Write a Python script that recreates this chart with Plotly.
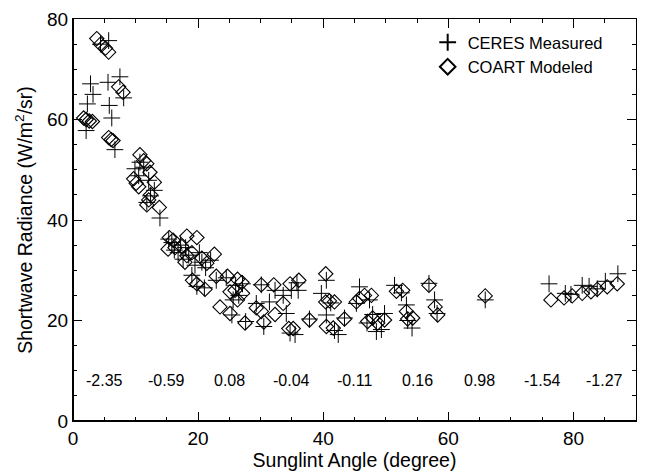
import plotly.graph_objects as go

# CERES measured (crosses)
ceres_x = [2.1, 2.3, 2.8, 3.2, 4.4, 5.7, 5.6, 5.8, 6.2, 6.7, 7.5, 8.1,
           9.9, 10.5, 10.7, 11.3, 12.1, 12.4, 13.0, 13.9, 11.8,
           15.3, 15.8, 16.2, 16.8, 17.2, 17.6, 18.0, 18.5, 19.0, 19.5, 20.2, 20.6, 21.2, 22.0, 22.9, 19.8, 21.0,
           24.5, 25.6, 25.4, 26.0, 27.1, 26.5, 27.6, 29.3, 30.1, 30.5, 31.4, 32.3, 33.6, 34.1, 34.9, 36.0, 35.5,
           34.7, 35.8, 37.8, 39.7, 40.5, 40.5,
           41.2, 42.4, 41.8, 43.4, 45.8, 45.3, 47.4, 47.9, 48.5, 49.3, 49.8, 47.0, 51.4, 52.5, 53.3, 54.2, 53.5,
           56.9, 57.8, 58.2, 65.9, 76.1, 78.7, 79.6, 81.4, 82.5, 83.8, 85.1, 87.1]
ceres_y = [57.8, 63.1, 67.1, 65.0, 75.0, 75.7, 67.4, 62.8, 60.3, 54.0, 68.5, 64.3,
           50.2, 48.8, 51.5, 50.5, 47.9, 44.8, 45.9, 40.4, 43.5,
           36.2, 35.5, 34.0, 33.5, 35.0, 32.2, 34.5, 33.0, 29.0, 31.0, 33.5, 31.6, 30.5, 32.0, 28.0, 26.8, 26.5,
           28.5, 24.1, 21.1, 27.0, 27.3, 25.0, 19.8, 23.4, 27.1, 18.8, 23.7, 26.0, 25.0, 21.4, 26.0, 26.0, 17.2,
           17.5, 27.5, 20.3, 25.4, 28.0, 21.1,
           23.5, 17.2, 18.0, 20.5, 26.7, 23.4, 24.1, 21.2, 17.8, 18.2, 21.4, 19.5, 27.0, 25.5, 23.1, 18.5, 20.0,
           27.4, 24.1, 21.4, 24.1, 27.3, 25.4, 25.2, 27.0, 26.8, 26.3, 27.8, 29.3]

# COART modeled (diamonds)
coart_x = [3.8, 4.4, 5.2, 5.7, 7.3, 8.0, 1.7, 2.1, 2.6, 3.1, 5.7, 6.1, 6.4,
           10.7, 11.3, 11.8, 12.3, 13.0, 9.7, 10.1, 10.5, 12.1, 12.4, 11.8, 13.8,
           15.4, 16.0, 18.2, 19.8, 15.2, 16.3, 17.4, 17.9, 18.2, 19.0, 20.6, 21.4, 22.6, 19.1, 19.8, 21.1,
           22.9, 24.7, 23.5, 25.1, 26.3, 27.0, 25.1, 25.9, 26.3, 27.1, 27.5, 30.1, 32.1, 29.3, 30.1, 30.5,
           32.3, 33.6, 34.7, 36.1, 34.5, 35.2, 37.8, 40.4, 40.4, 40.5,
           41.0, 41.8, 41.6, 43.4, 45.3, 45.8, 46.6, 47.7, 47.1, 47.9, 48.7, 49.8, 51.7, 52.7, 53.3, 53.5, 54.3,
           56.9, 57.9, 58.3, 65.9, 76.4, 78.5, 79.8, 81.4, 82.8, 83.8, 85.4, 87.0]
coart_y = [76.1, 75.0, 74.2, 73.4, 66.5, 65.4, 60.3, 60.0, 59.7, 59.6, 56.4, 56.0, 55.8,
           53.0, 51.8, 51.2, 49.5, 47.5, 48.2, 47.3, 46.6, 44.0, 45.0, 43.0, 42.5,
           36.5, 36.0, 36.8, 36.5, 34.2, 34.5, 34.7, 31.6, 32.9, 33.5, 32.4, 31.4, 33.2, 28.0, 27.3, 26.2,
           28.8, 28.8, 22.7, 21.4, 28.2, 27.6, 25.7, 26.0, 24.1, 25.4, 19.5, 27.1, 27.1, 22.5, 21.8, 19.7,
           21.2, 23.4, 27.3, 28.0, 18.4, 18.4, 20.1, 29.3, 23.7, 18.8,
           23.9, 23.7, 18.5, 20.3, 23.7, 24.4, 25.0, 25.0, 19.8, 20.5, 19.5, 20.1, 25.8, 26.0, 21.8, 20.3, 20.5,
           27.0, 22.7, 21.1, 24.9, 24.1, 24.5, 24.9, 25.4, 25.7, 26.2, 26.7, 27.3]

# bias labels
label_x = [5, 15, 25, 35, 45, 55, 65, 75, 85]
label_y = [8, 8, 8, 8, 8, 8, 8, 8, 8]
label_text = ["-2.35", "-0.59", "0.08", "-0.04", "-0.11", "0.16", "0.98", "-1.54", "-1.27"]

FONT = "Liberation Sans, Arial, Helvetica, sans-serif"

fig = go.Figure()
fig.add_trace(go.Scatter(
    x=ceres_x, y=ceres_y, mode="markers", name="CERES Measured",
    marker=dict(symbol="cross-thin-open", size=12, color="black",
                line=dict(color="black", width=1.0)),
))
fig.add_trace(go.Scatter(
    x=coart_x, y=coart_y, mode="markers", name="COART Modeled",
    marker=dict(symbol="diamond-open", size=11, color="black",
                line=dict(color="black", width=1.1)),
))

for xv, yv, t in zip(label_x, label_y, label_text):
    fig.add_annotation(x=xv, y=yv, text=t, showarrow=False,
                       font=dict(family=FONT, size=16, color="black"))

axis_common = dict(
    showgrid=False, zeroline=False, showline=True, linecolor="black", linewidth=1,
    mirror="allticks", ticks="inside", ticklen=9, tickwidth=1, tickcolor="black",
    tickfont=dict(family=FONT, size=19, color="black"),
)

fig.update_xaxes(
    range=[0, 90], tickvals=[0, 20, 40, 60, 80],
    minor=dict(dtick=5, ticks="inside", ticklen=4, tickcolor="black", tickwidth=1),
    title=dict(text="Sunglint Angle (degree)", font=dict(family=FONT, size=19.5, color="black"), standoff=0),
    **axis_common,
)
fig.update_yaxes(
    range=[0, 80], tickvals=[0, 20, 40, 60, 80],
    minor=dict(dtick=5, ticks="inside", ticklen=4, tickcolor="black", tickwidth=1),
    title=dict(text="Shortwave Radiance (W/m<sup>2</sup>/sr)", font=dict(family=FONT, size=19.5, color="black"), standoff=9),
    **axis_common,
)

# heavier left and bottom frame lines
fig.add_shape(type="line", xref="paper", yref="paper", x0=0, x1=1, y0=0, y1=0,
              line=dict(color="black", width=2))
fig.add_shape(type="line", xref="paper", yref="paper", x0=0, x1=0, y0=0, y1=1,
              line=dict(color="black", width=2))

fig.update_layout(
    width=646, height=473,
    margin=dict(l=73, r=9, t=13, b=52),
    paper_bgcolor="white", plot_bgcolor="white",
    font=dict(family=FONT, color="black"),
    showlegend=True,
    legend=dict(x=0.63, y=0.985, xanchor="left", yanchor="top",
                bgcolor="rgba(0,0,0,0)", font=dict(family=FONT, size=16.5, color="black"),
                itemsizing="constant", tracegroupgap=0),
)

fig.write_html("out.html")
